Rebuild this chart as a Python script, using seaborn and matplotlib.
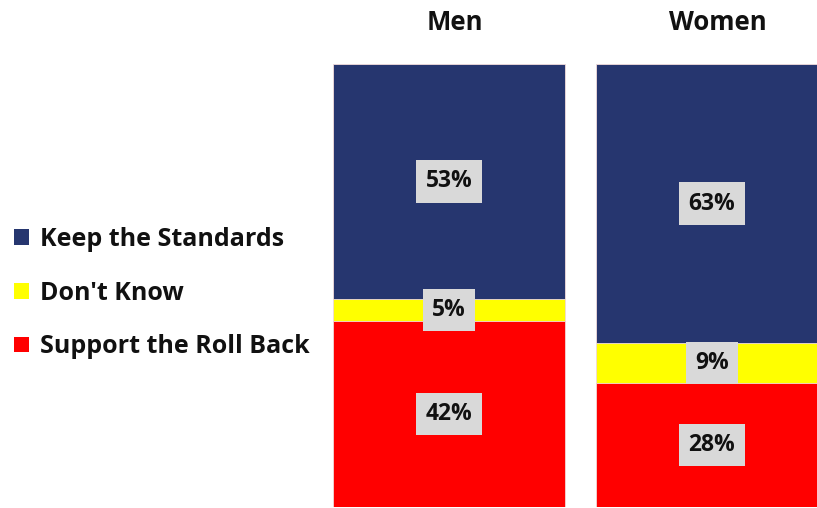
import matplotlib
matplotlib.use("Agg")
import matplotlib.pyplot as plt
from matplotlib.patches import Rectangle
from matplotlib.transforms import blended_transform_factory, ScaledTranslation
import seaborn as sns
import pandas as pd
import numpy as np

groups = ["Men", "Women"]
support_roll_back = [42, 28]
dont_know = [5, 9]
keep_standards = [53, 63]

series_names = ["Keep the Standards", "Don't Know", "Support the Roll Back"]
series_colors = ["#26366F", "#FFFF00", "#FF0000"]

sns.set_theme(style="white")
plt.rcParams["font.family"] = ["Open Sans", "DejaVu Sans"]

fig = plt.figure(figsize=(8.17, 5.08), dpi=100)
ax = fig.add_axes([333 / 817, 1 / 508, 484 / 817, 443 / 508])

# cumulative layers drawn back to front so each stacked segment shows
bottom_layer = np.array(support_roll_back, dtype=float)
middle_layer = bottom_layer + np.array(dont_know)
top_layer = middle_layer + np.array(keep_standards)

layers = [
    (top_layer, series_colors[0]),
    (middle_layer, series_colors[1]),
    (bottom_layer, series_colors[2]),
]
bar_width = 0.882
for values, color in layers:
    df = pd.DataFrame({"group": groups, "value": values})
    sns.barplot(data=df, x="group", y="value", color=color, width=bar_width,
                saturation=1, edgecolor="#F2DCDC", linewidth=0.6, ax=ax)

# value labels in grey boxes at segment centres
segments = [
    (np.array(support_roll_back), np.zeros(2)),
    (np.array(dont_know), bottom_layer),
    (np.array(keep_standards), middle_layer),
]
for vals, base in segments:
    for i, v in enumerate(vals):
        ax.text(i, base[i] + v / 2, f"{v}%", ha="center", va="center",
                fontsize=16.5, fontweight="bold", color="#111111",
                bbox=dict(boxstyle="square,pad=0.4", facecolor="#D9D9D9",
                          edgecolor="none"))

ax.set_xlim(-bar_width / 2, -bar_width / 2 + 484 / 263)
ax.set_ylim(0, 100)
ax.set_xlabel("")
ax.set_ylabel("")
ax.set_xticks([])
ax.set_yticks([])
for s in ax.spines.values():
    s.set_visible(False)

# group titles above the bars, nudged slightly right
title_tf = blended_transform_factory(ax.transData, fig.transFigure) + \
    ScaledTranslation(0.06, 0, fig.dpi_scale_trans)
for i, g in enumerate(groups):
    ax.text(i, 1 - 23 / 508, g, transform=title_tf, ha="center", va="center",
            fontsize=18.5, fontweight="bold", color="#111111")

# legend on the left
handles = [Rectangle((0, 0), 1, 1, facecolor=c, edgecolor="none") for c in series_colors]
fig.legend(handles, series_names, loc="center left", bbox_to_anchor=(14 / 817, 1 - 293 / 508),
           frameon=False, borderpad=0, borderaxespad=0,
           prop={"size": 18, "weight": "bold"},
           handlelength=0.6, handleheight=0.6, handletextpad=0.45,
           labelspacing=1.15, labelcolor="#111111")

fig.savefig("out.png", dpi=100)
